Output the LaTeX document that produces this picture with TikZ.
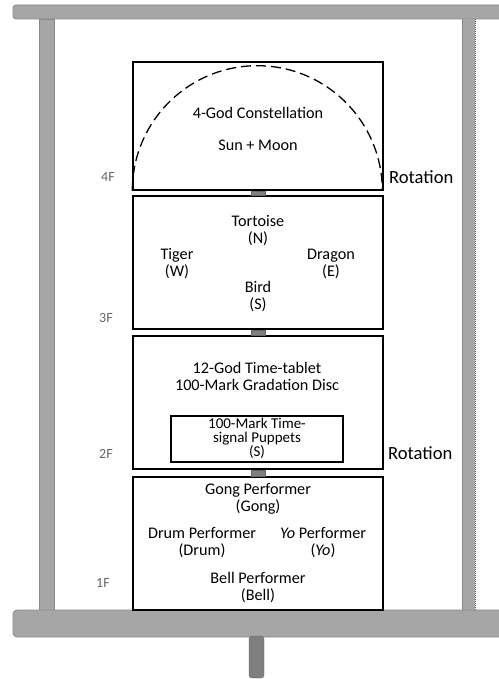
\documentclass[tikz,border=0pt]{standalone}
\usepackage{fontspec}
\setmainfont{Carlito}
\definecolor{barfill}{HTML}{A6A6A6}
\definecolor{baredge}{HTML}{8A8A8A}
\definecolor{axlefill}{HTML}{7F7F7F}
\tikzset{
  floorbox/.style={draw=black, line width=1.4pt, fill=white, minimum width=250pt, inner sep=0pt},
  frame/.style={fill=barfill, draw=baredge, line width=0.8pt},
  axle/.style={fill=axlefill, draw=axlefill!80!black, line width=0.4pt},
  txt/.style={font=\fontsize{16.2}{17}\selectfont, align=center, inner sep=0pt},
  flabel/.style={font=\fontsize{14}{16}\selectfont, text=black!60, inner sep=0pt},
  rotlabel/.style={font=\fontsize{18.6}{20}\selectfont, inner sep=0pt, anchor=west}
}
\begin{document}
\begin{tikzpicture}[x=1pt, y=-1pt]
  \useasboundingbox (0,0) rectangle (498,679);
  % frame
  \draw[frame, rounded corners=3pt] (13,5) rectangle (508,19);
  \draw[frame] (39,19) rectangle (54,610);
  \fill[barfill] (462,19) rectangle (475,610);
  \draw[baredge, line width=0.8pt] (462,19) -- (462,610);
  \draw[black!70, dashed, dash pattern=on 1pt off 1pt, line width=0.6pt] (475,19) -- (475,610);
  \draw[frame, rounded corners=4pt] (13,610) rectangle (508,637);
  \draw[axle, rounded corners=3pt] (249,636) rectangle (264,678);

  % floors
  \node[floorbox, minimum height=128pt] (f4) at (258,126) {};
  \node[floorbox, minimum height=133pt] (f3) at (258,262.5) {};
  \node[floorbox, minimum height=133pt] (f2) at (258,402.5) {};
  \node[floorbox, minimum height=133pt] (f1) at (258,543.5) {};

  % axle pieces between floors
  \draw[axle] ([xshift=-7pt]f4.south) rectangle ([xshift=7pt]f3.north);
  \draw[axle] ([xshift=-7pt]f3.south) rectangle ([xshift=7pt]f2.north);
  \draw[axle] ([xshift=-7pt]f2.south) rectangle ([xshift=7pt]f1.north);

  % 4F
  \draw[line width=1.3pt, dash pattern=on 10pt off 5pt] (f4.south west) arc[start angle=180, end angle=0, radius=125pt];
  \node[txt] (const) at (258,113) {4-God Constellation};
  \node[txt] (sunmoon) at (258,145) {Sun + Moon};

  % 3F
  \node[txt] (tortoise) at (258,231) {Tortoise\\(N)};
  \node[txt] (tiger) at (177,264) {Tiger\\(W)};
  \node[txt] (dragon) at (331,264) {Dragon\\(E)};
  \node[txt] (bird) at (258,296) {Bird\\(S)};

  % 2F
  \node[txt] (tablet) at (257,376) {12-God Time-tablet\\100-Mark Gradation Disc};
  \node[draw=black, line width=1.2pt, minimum width=172pt, minimum height=46pt, inner sep=0pt] (puppetbox) at (257,439) {};
  \node[txt, font=\fontsize{15}{14}\selectfont] (puppets) at (257,438.5) {100-Mark Time-\\signal Puppets\\(S)};

  % 1F
  \node[txt] (gong) at (258,499) {Gong Performer\\(Gong)};
  \node[txt] (drum) at (202,543) {Drum Performer\\(Drum)};
  \node[txt] (yo) at (323,543) {\textit{Yo} Performer\\(\textit{Yo})};
  \node[txt] (bell) at (258,587) {Bell Performer\\(Bell)};

  % floor labels
  \node[flabel] (l4) at (108,177) {4F};
  \node[flabel] (l3) at (106,318) {3F};
  \node[flabel] (l2) at (106,454) {2F};
  \node[flabel] (l1) at (103,583) {1F};
  \node[rotlabel] (rot4) at (389,177) {Rotation};
  \node[rotlabel] (rot2) at (388,453) {Rotation};
\end{tikzpicture}
\end{document}
